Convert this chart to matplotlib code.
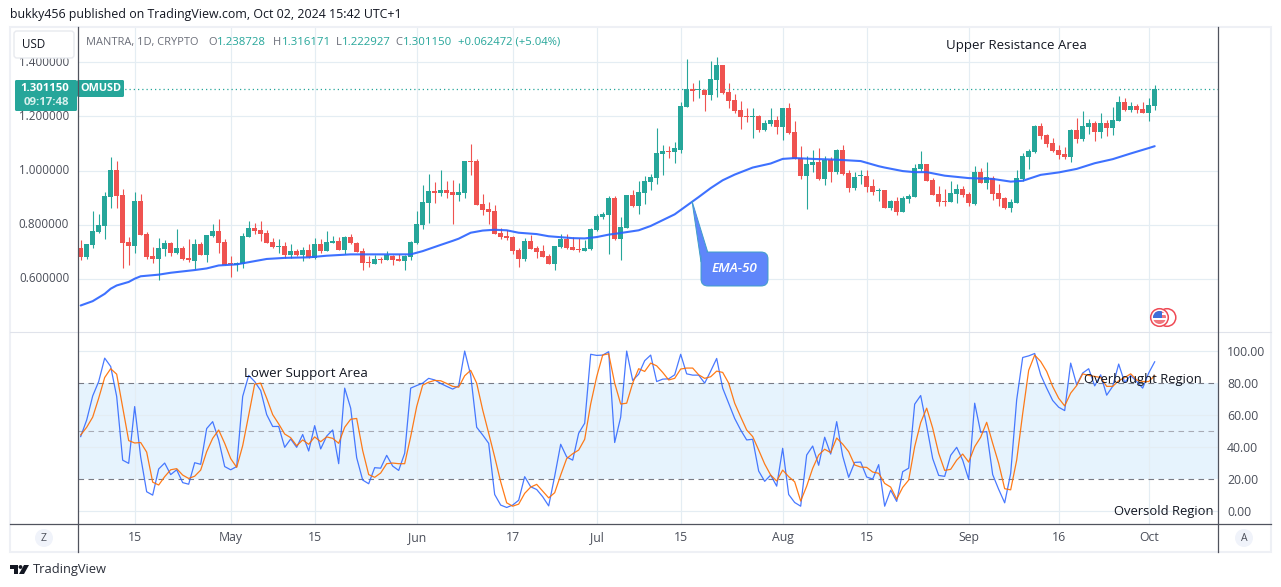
import matplotlib
matplotlib.use('Agg')
import matplotlib.pyplot as plt
from matplotlib.patches import Circle, FancyBboxPatch, Polygon, Rectangle
from matplotlib.transforms import ScaledTranslation
import numpy as np

plt.rcParams['font.family'] = ['Open Sans', 'DejaVu Sans']

# daily candles, first one is Apr 6 2024
opens = [.712,.680,.723,.772,.794,.901,1.001,.909,.735,.720,
         .886,.764,.683,.672,.709,.731,.694,.712,.675,.664,
         .727,.686,.757,.775,.735,.657,.649,.653,.753,.786,
         .779,.768,.735,.716,.720,.686,.701,.686,.705,.675,
         .727,.701,.731,.738,.705,.753,.733,.701,.660,.653,
         .673,.668,.683,.672,.664,.679,.731,.798,.879,.923,
         .916,.927,.920,.909,.916,1.035,1.035,.875,.857,.849,
         .768,.757,.753,.705,.672,.738,.712,.701,.683,.653,
         .716,.746,.716,.709,.701,.709,.779,.827,.835,.898,
         .746,.786,.909,.868,.916,.957,.972,1.060,1.072,1.068,
         1.075,1.235,1.301,1.296,1.298,1.279,1.335,1.390,1.290,1.260,
         1.223,1.201,1.199,1.201,1.149,1.172,1.186,1.160,1.231,1.142,
         1.046,.979,1.020,1.031,.968,1.038,.994,1.075,.990,.935,
         .978,.979,.942,.925,.927,.860,.886,.846,.894,.901,
         1.005,1.023,.964,.912,.886,.883,.912,.931,.912,.875,
         .994,.953,.972,.916,.898,.860,.879,.968,1.049,1.068,
         1.164,1.131,1.101,1.075,1.060,1.049,1.149,1.116,1.160,1.175,
         1.142,1.175,1.157,1.183,1.253,1.223,1.238,1.227,1.212,1.238728]
closes = [.680,.727,.775,.798,.905,1.001,.905,.731,.720,.886,
          .760,.679,.672,.712,.731,.694,.712,.672,.668,.727,
          .686,.760,.775,.731,.649,.653,.657,.757,.786,.775,
          .764,.731,.716,.720,.686,.701,.686,.705,.679,.727,
          .701,.735,.738,.705,.753,.731,.698,.657,.657,.672,
          .669,.686,.668,.664,.683,.735,.801,.883,.923,.916,
          .927,.916,.909,.920,1.035,1.031,.872,.853,.846,.764,
          .753,.749,.701,.672,.738,.709,.698,.679,.653,.720,
          .746,.712,.705,.707,.712,.783,.831,.838,.898,.746,
          .790,.909,.868,.920,.960,.975,1.064,1.072,1.070,1.083,
          1.238,1.301,1.294,1.298,1.279,1.338,1.390,1.286,1.257,1.220,
          1.198,1.199,1.201,1.149,1.175,1.186,1.160,1.231,1.138,1.042,
          .979,1.023,1.031,.968,1.038,.994,1.075,.986,.935,.975,
          .979,.938,.920,.927,.860,.886,.846,.898,.905,1.009,
          1.023,.960,.909,.883,.884,.916,.931,.909,.879,.994,
          .953,.975,.912,.894,.860,.883,.972,1.053,1.072,1.164,
          1.127,1.098,1.072,1.057,1.049,1.149,1.116,1.164,1.175,1.142,
          1.175,1.157,1.186,1.253,1.223,1.238,1.223,1.212,1.242,1.30115]
highs = [.742,.730,.849,.838,.920,1.049,1.035,.931,.753,.920,
         .912,.774,.716,.749,.742,.735,.783,.720,.746,.746,
         .735,.760,.801,.820,.746,.683,.660,.768,.812,.805,
         .812,.779,.749,.746,.735,.727,.709,.716,.727,.749,
         .746,.775,.757,.753,.757,.764,.735,.712,.683,.686,
         .679,.701,.686,.690,.686,.738,.849,.946,.986,.957,
         1.001,.960,.964,.953,1.035,1.098,1.042,.912,.883,.872,
         .786,.779,.757,.712,.749,.760,.720,.723,.690,.720,
         .764,.764,.753,.749,.742,.786,.838,.846,.905,.905,
         .827,.911,.927,.960,.979,.986,1.157,1.094,1.090,1.105,
         1.253,1.412,1.323,1.335,1.300,1.405,1.420,1.392,1.323,1.283,
         1.257,1.231,1.231,1.205,1.186,1.231,1.201,1.233,1.249,1.183,
         1.090,1.053,1.075,1.083,1.053,1.049,1.079,1.094,1.001,.994,
         1.001,1.001,.968,.935,.927,.890,.901,.905,.912,1.023,
         1.072,1.023,.972,.942,.931,.960,.949,.942,.920,1.016,
         1.009,1.031,.979,.949,.901,.894,1.001,1.064,1.079,1.168,
         1.175,1.135,1.120,1.094,1.086,1.153,1.194,1.220,1.190,1.183,
         1.212,1.186,1.235,1.275,1.268,1.253,1.246,1.253,1.268,1.316171]
lows = [.668,.673,.712,.770,.746,.860,.860,.638,.649,.694,
        .760,.672,.657,.594,.683,.683,.692,.668,.660,.635,
        .686,.660,.753,.694,.649,.605,.627,.638,.753,.764,
        .738,.731,.712,.694,.675,.675,.683,.664,.675,.672,
        .694,.701,.731,.705,.690,.727,.698,.631,.642,.653,
        .657,.668,.649,.664,.631,.668,.727,.783,.805,.879,
        .905,.898,.801,.886,.898,.983,.872,.835,.801,.764,
        .746,.742,.690,.642,.664,.709,.675,.679,.653,.631,
        .712,.709,.705,.698,.701,.705,.775,.820,.690,.742,
        .668,.786,.864,.838,.875,.927,.949,.983,1.046,1.027,
        1.064,1.235,1.257,1.268,1.220,1.260,1.272,1.283,1.231,1.212,
        1.153,1.179,1.120,1.142,1.146,1.164,1.135,1.112,1.135,1.042,
        .968,.857,.994,.964,.947,.957,.986,.983,.920,.927,
        .949,.920,.909,.886,.860,.853,.835,.846,.879,.901,
        .998,.960,.909,.868,.868,.883,.879,.901,.868,.872,
        .953,.931,.890,.868,.857,.846,.879,.960,1.005,1.064,
        1.116,1.086,1.068,1.042,1.042,1.031,1.101,1.109,1.135,1.109,
        1.120,1.127,1.131,1.183,1.220,1.216,1.212,1.212,1.183,1.222927]

# EMA-50 read at some of the days
ema_days = [0,2,4,5,6,8,9,10,13,15,19,21,23,26,29,31,34,38,41,45,49,54,55,57,60,62,63,65,67,69,
            71,73,76,78,82,84,86,88,90,93,95,99,101,103,105,107,109,112,115,117,119,122,126,130,133,
            134,137,139,141,144,148,152,155,157,160,163,166,169,172,175,178,179]
ema_vals = [.501,.517,.544,.563,.575,.588,.600,.609,.615,.622,.632,.638,.649,.653,.665,.673,.677,.679,.685,.690,
            .690,.690,.690,.702,.725,.740,.748,.770,.778,.781,.779,.770,.765,.757,.750,.749,.754,.763,.769,.779,
            .795,.838,.870,.902,.935,.964,.985,1.011,1.026,1.043,1.046,1.043,1.040,1.035,1.016,1.011,.998,.994,
            .994,.981,.972,.969,.959,.962,.984,.993,1.006,1.027,1.042,1.063,1.083,1.090]

# stochastic RSI
stoch_k = [46.7,57,72,81,95.6,90.4,71.7,32,30,65.4,
           34,12.3,10.2,26.5,30.2,23,26,18,17,30.4,
           29.4,51.7,56,44.6,28,26,28,71.7,84.8,81,
           75.4,60.4,53,53,40,45.2,40,48,37.7,53.5,
           39,47,50.8,29.8,76.9,64.4,33.5,19.6,17.3,27.3,
           27,35,28.3,25.6,36.3,76.9,78.5,80,83,82,
           79.8,78,76.3,78.3,100,85,52.5,47.7,42.5,10.6,
           4,2.5,4,7,21.7,15.4,13.7,9.2,3.5,22,
           41.9,34,32,48.8,55,98,97.3,97.5,99.6,43,
           58.8,100,81.7,85.6,94,97.5,81,82.5,82.7,85.2,
           98,85.8,85,85,80,87.5,95.4,76.9,67.5,58,
           50.8,44.6,45,25.2,18.8,22.7,15.8,39.4,10.6,5.6,
           3.3,35.2,40.8,28.8,46.3,35.8,56,34.6,21.3,30.6,
           30.8,21.5,20.2,29.2,3.3,13.3,6.3,24.8,27,66.9,
           72.3,53.3,33,22.5,21.9,35,40,32,20,67.5,
           49.4,49.8,23,13.8,5.4,23.8,69.6,96,97,98.5,
           85.2,76.9,69.2,65,62.9,92.5,79,86.3,89,78.3,
           85.2,72.5,78,91.9,80.4,84.8,81,76.9,86.3,93.3]
stoch_d = [47.7,52.5,58.8,70.6,83.5,89,85.6,64.8,44.2,42.7,
           43,37,18.3,16.5,21.7,26,26.7,22.7,20.6,22,
           25.8,37.3,45.6,50.8,42.5,33,27.5,41,60,79.4,
           80,70.6,60.4,54.6,48.3,46,41,44.6,41.9,46.5,
           43.5,46.5,45.6,42.5,52.5,57.5,58,38,23,21.3,
           24,29.8,30.2,29.8,29.8,46.7,65.4,78.8,80.6,81.7,
           81.5,79.8,78,77.5,84.6,88,80,63.3,48.8,34,
           18.5,5.4,3.3,4.6,11.3,15.2,16.9,12.7,8.5,11.7,
           22.7,33,36,38.3,45,67,84,97.5,98.3,80,
           67,67.5,80,89,87.3,92.5,90.8,86.7,82,83,
           88.8,89.4,89.4,85.2,83,84,87.5,86.7,80,67.5,
           59,50.8,46.7,38.3,29.6,22.7,19,25.8,21.7,18.5,
           6.5,15.8,26.9,35.2,38.8,36.7,45.8,42,37.3,29,
           27.7,27.5,24.6,23.8,17.5,15.2,7.7,15,19.6,40.4,
           55.4,64.4,52,36.3,25.6,26.3,32,35.8,30.8,40.4,
           46.3,55.6,42.5,30,14.2,13.5,32,61,88,97.5,
           93.5,87.3,77.9,70.6,65.8,73.8,78.5,85.8,84.8,84.2,
           83.5,78,78,81.5,83.5,85.8,82,81,81,84.6]

tick_days = [9, 25, 39, 56, 72, 86, 100, 117, 131, 148, 163, 178]
tick_labels = ['15', 'May', '15', 'Jun', '17', 'Jul', '15', 'Aug', '15', 'Sep', '16', 'Oct']
price_ticks = [0.6, 0.8, 1.0, 1.2, 1.4]
stoch_ticks = [0, 40, 60, 100]
stoch_labels = [0, 20, 40, 60, 80, 100]
last_close = 1.30115

UP = '#26a69a'
DOWN = '#ef5350'
GRID = '#e4edf3'
AXIS = '#50535e'
TEXT = '#131722'
LABEL = '#4a4e59'

W, H = 1281, 587
fig = plt.figure(figsize=(W / 100, H / 100), dpi=100, facecolor='white')


def px_axes(x0, y0, x1, y1):
    return fig.add_axes([x0 / W, 1 - y1 / H, (x1 - x0) / W, (y1 - y0) / H])


ax = px_axes(77.5, 27, 1217.5, 331.5)
ax_s = px_axes(77.5, 331.5, 1217.5, 524)

for a in (ax, ax_s):
    a.set_xlim(-0.53, 189.47)
    a.set_xticks(tick_days)
    a.grid(True, color=GRID, linewidth=0.85)
    a.set_axisbelow(True)
    a.tick_params(length=0)
    for s in a.spines.values():
        s.set_visible(False)

# price panel
ax.set_ylim(0.4048, 1.5307)
days = np.arange(len(opens))
o, h, l, c = map(np.array, (opens, highs, lows, closes))
colors = np.where(c >= o, UP, DOWN)
ax.vlines(days, l, h, colors=colors, linewidth=0.8, zorder=2)
ax.bar(days, np.maximum(np.abs(c - o), 0.004), bottom=np.minimum(o, c), width=0.82,
       color=colors, linewidth=0, zorder=3)
ax.plot(ema_days, ema_vals, color='#2962ff', linewidth=1.5, alpha=0.9, zorder=4, solid_capstyle='round')
ax.axhline(last_close, color=UP, linestyle=(0, (1, 2.4)), linewidth=0.9, zorder=2)
ax.set_yticks(price_ticks)
ax.set_yticklabels(['%.6f' % p for p in price_ticks], color=LABEL, fontsize=8.4)
ax.tick_params(axis='y', pad=6)
ax.tick_params(axis='x', labelbottom=False)
shift_up = ScaledTranslation(0, 1.5 / 100, fig.dpi_scale_trans)
for lab in ax.get_yticklabels():
    lab.set_transform(lab.get_transform() + shift_up)

# stochastic panel
ax_s.set_ylim(-7.8, 112.2)
ax_s.axhspan(20, 80, color='#2196f3', alpha=0.11, linewidth=0, zorder=0)
ax_s.axhline(80, color='#787b86', linestyle=(0, (5, 4)), linewidth=0.8, zorder=1)
ax_s.axhline(50, color='#a8abb5', linestyle=(0, (5, 4)), linewidth=0.8, zorder=1)
ax_s.axhline(20, color='#787b86', linestyle=(0, (5, 4)), linewidth=0.8, zorder=1)
ax_s.plot(days, stoch_k, color='#2962ff', linewidth=0.9, alpha=0.85, zorder=3)
ax_s.plot(days, stoch_d, color='#ff6d00', linewidth=0.9, alpha=0.9, zorder=4)
ax_s.yaxis.tick_right()
ax_s.set_yticks(stoch_ticks)
ax_s.set_yticklabels(['%.2f' % v for v in stoch_ticks], color=LABEL, fontsize=8.8)
ax_s.set_yticks([20, 80], ['20.00', '80.00'], minor=True, color=LABEL, fontsize=8.8)
ax_s.tick_params(axis='y', which='both', pad=7, length=0)
ax_s.set_xticklabels(tick_labels, color=LABEL, fontsize=8.8)
ax_s.tick_params(axis='x', pad=5)

# everything around the panels, in pixel coordinates
ov = fig.add_axes([0, 0, 1, 1], zorder=10)
ov.set_xlim(0, W)
ov.set_ylim(H, 0)
ov.axis('off')
ov.patch.set_alpha(0)

ov.add_patch(Rectangle((10, 27), 1260.5, 525, fill=False, edgecolor='#eef0f5', linewidth=1.5))
ov.plot([10, 1271], [331.5, 331.5], color='#e0e3eb', linewidth=0.8)
ov.plot([10, 1271], [524, 524], color=AXIS, linewidth=0.9)
ov.plot([77.5, 77.5], [27, 552], color=AXIS, linewidth=0.9)
ov.plot([1217.5, 1217.5], [27, 552], color=AXIS, linewidth=0.9)

ov.text(10, 14.5, 'bukky456 published on TradingView.com, Oct 02, 2024 15:42 UTC+1',
        fontsize=8.9, color=TEXT, va='center')

ov.add_patch(FancyBboxPatch((14, 31), 60, 27, boxstyle='round,pad=0,rounding_size=3',
                            facecolor='white', edgecolor='#e8eaef', linewidth=1.0))
ov.text(34, 44.5, 'USD', fontsize=8.4, color=TEXT, ha='center', va='center')

# legend line
ov.text(86, 42.5, 'MANTRA, 1D, CRYPTO', fontsize=7.9, color='#6a6d78', va='center')
for x, s, col, fs in [(208, 'O', '#6a6d78', 8.0), (217, '1.238728', UP, 8.2), (273, 'H', '#6a6d78', 8.0),
                      (282, '1.316171', UP, 8.2), (336, 'L', '#6a6d78', 8.0), (342, '1.222927', UP, 8.2),
                      (395, 'C', '#6a6d78', 8.0), (403, '1.301150', UP, 8.2),
                      (458, '+0.062472 (+5.04%)', UP, 8.1)]:
    ov.text(x, 42.5, s, fontsize=fs, color=col, va='center')

# last price labels
ov.add_patch(FancyBboxPatch((15, 80), 62, 31, boxstyle='round,pad=0,rounding_size=1.5', facecolor=UP, linewidth=0))
ov.add_patch(FancyBboxPatch((77, 80), 47, 17, boxstyle='round,pad=0,rounding_size=1.5', facecolor=UP, linewidth=0))
ov.text(45, 88.5, '1.301150', fontsize=8.2, color='white', weight='bold', ha='center', va='center')
ov.text(46, 102.5, '09:17:48', fontsize=8.2, color='#d6f0ed', weight='bold', ha='center', va='center')
ov.text(100.5, 88.5, 'OMUSD', fontsize=7.8, color='white', weight='bold', ha='center', va='center')

# annotations
ov.text(946, 45.5, 'Upper Resistance Area', fontsize=9.5, color=TEXT, va='center')
ov.text(244, 373, 'Lower Support Area', fontsize=9.5, color=TEXT, va='center')
ov.text(1084, 380, 'Overbought Region', fontsize=9.4, color=TEXT, va='center')
ov.text(1114, 511, 'Oversold Region', fontsize=9.4, color=TEXT, va='center')

# EMA-50 callout
ov.add_patch(Polygon([(692, 201), (708, 253), (701, 262)], closed=True, facecolor='#5f86fa', edgecolor='#3f9fc8', linewidth=0.7))
ov.add_patch(FancyBboxPatch((701, 252), 67, 34, boxstyle='round,pad=0,rounding_size=7',
                            facecolor='#5f86fa', edgecolor='#3f9fc8', linewidth=0.7))
ov.add_patch(Polygon([(693, 204), (707, 254), (702, 260)], closed=True, facecolor='#5f86fa', linewidth=0))
ov.text(734, 268.5, 'EMA-50', fontsize=9.7, color='white', style='italic', weight='semibold', ha='center', va='center')

# flag icon
for cx in (1167, 1159.5):
    ov.add_patch(Circle((cx, 317.5), 8.8, facecolor='white', edgecolor='#ef4a55', linewidth=1.1))
flag = Circle((1159.5, 317.5), 6.5, facecolor='white', linewidth=0)
ov.add_patch(flag)
for y0, y1 in [(311, 313), (315, 318), (320, 324)]:
    r = Rectangle((1153, y0), 13, y1 - y0, facecolor='#f0767d', linewidth=0)
    ov.add_patch(r)
    r.set_clip_path(flag)
blue = Rectangle((1153, 310), 8.5, 8, facecolor='#3f6fd8', linewidth=0)
ov.add_patch(blue)
blue.set_clip_path(flag)

# corner buttons
ov.add_patch(Circle((44, 538), 9, facecolor='#f0f3fa', linewidth=0))
ov.text(44, 538.5, 'Z', fontsize=7.5, color=LABEL, ha='center', va='center')
ov.add_patch(Circle((1244, 538), 9, facecolor='#f0f3fa', linewidth=0))
ov.text(1244, 538.5, 'A', fontsize=7.5, color=LABEL, ha='center', va='center')

# TradingView logo
ov.add_patch(Polygon([(10, 565), (18, 565), (18, 574), (14, 574), (14, 569), (10, 569)], closed=True, facecolor='#131722', linewidth=0))
ov.add_patch(Circle((20.5, 567), 1.9, facecolor='#131722', linewidth=0))
ov.add_patch(Polygon([(24, 565), (29, 565), (24, 574), (19, 574)], closed=True, facecolor='#131722', linewidth=0))
ov.text(33, 570, 'TradingView', fontsize=9.3, color='#2a2e39', va='center')

fig.savefig('out.png', dpi=100, facecolor='white')
plt.close(fig)
